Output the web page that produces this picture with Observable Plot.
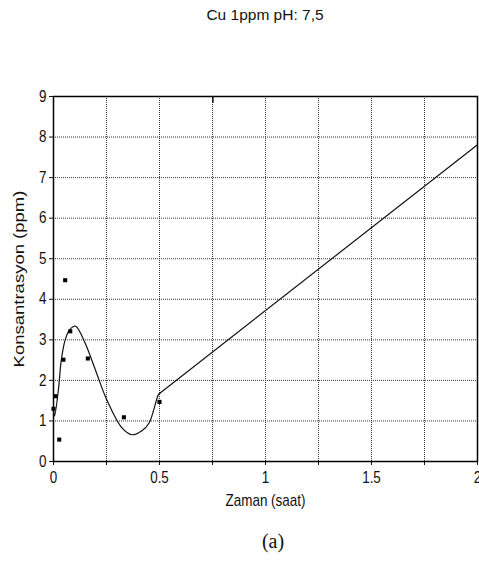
<!DOCTYPE html>
<html>
<head>
<meta charset="utf-8">
<script src="https://cdn.jsdelivr.net/npm/d3@7"></script>
<script src="https://cdn.jsdelivr.net/npm/@observablehq/plot@0.6"></script>
<style>
  html, body { margin: 0; padding: 0; background: #fff; }
  #wrap { width: 479px; height: 565px; overflow: hidden; position: relative; }
  #title { height: 80px; box-sizing: border-box; padding-top: 6px; padding-left: 51px; text-align: center;
           font-family: "Liberation Sans", Arial, sans-serif; font-size: 15.5px; line-height: 18px; color: #111; }
  #caption { box-sizing: border-box; padding-top: 9px; padding-left: 67px; text-align: center;
             font-family: "Liberation Serif", "Times New Roman", serif; font-size: 20px; line-height: 24px; color: #111; }
  #chart svg { display: block; overflow: visible; }
  #chart svg [aria-label="y-axis label"] text { font-size: 18.5px; }
</style>
</head>
<body>
<div id="wrap">
  <div id="title"></div>
  <div id="chart"></div>
  <div id="caption"></div>
</div>
<script>
// ---- text ----
const titleText = "Cu 1ppm pH: 7,5";
const captionText = "(a)";
const xLabel = "Zaman (saat)";
const yLabel = "Konsantrasyon (ppm)";

// ---- measured points (time in hours, concentration in ppm) ----
const pointTime = [0, 0.008, 0.027, 0.047, 0.055, 0.079, 0.162, 0.332, 0.5];
const pointConc = [1.30, 1.61, 0.54, 2.51, 4.47, 3.21, 2.54, 1.09, 1.47];

// ---- fitted smooth curve ----
const curveTime = [0, 0.005, 0.024, 0.036, 0.055, 0.071, 0.094, 0.107, 0.146, 0.197, 0.249, 0.323, 0.37, 0.417, 0.451, 0.495, 0.503];
const curveConc = [1.32, 1.12, 1.81, 2.47, 3.0, 3.21, 3.33, 3.33, 2.96, 2.27, 1.55, 0.83, 0.66, 0.76, 0.95, 1.65, 1.69];

// ---- straight continuation ----
const lineTime = [0.503, 2];
const lineConc = [1.69, 7.81];

// ---- small stray stroke at top ----
const strayTime = [0.752, 0.752];
const strayConc = [9, 8.86];

// ---- ticks ----
const xTicks = [0, 0.25, 0.5, 0.75, 1, 1.25, 1.5, 1.75, 2];
const xTickLabels = {0: "0", 0.5: "0.5", 1: "1", 1.5: "1.5", 2: "2"};
const yTicks = [0, 1, 2, 3, 4, 5, 6, 7, 8, 9];

const points = pointTime.map((t, i) => ({t, c: pointConc[i]}));
const curve = curveTime.map((t, i) => ({t, c: curveConc[i]}));
const line = lineTime.map((t, i) => ({t, c: lineConc[i]}));
const stray = strayTime.map((t, i) => ({t, c: strayConc[i]}));

document.getElementById("title").textContent = titleText;
document.getElementById("caption").textContent = captionText;

const axisFont = {fontFamily: "'Liberation Sans', Arial, sans-serif", fontSize: 16};

const chart = Plot.plot({
  width: 479,
  height: 440,
  marginTop: 16,
  marginBottom: 59,
  marginLeft: 53,
  marginRight: 2,
  style: {fontFamily: axisFont.fontFamily, fontSize: "16px", color: "#111", background: "#fff", overflow: "visible"},
  x: {domain: [0, 2]},
  y: {domain: [0, 9]},
  marks: [
    Plot.gridX(xTicks, {stroke: "#333", strokeOpacity: 1, strokeDasharray: "1,1"}),
    Plot.gridY(yTicks, {stroke: "#333", strokeOpacity: 1, strokeDasharray: "1,1"}),
    Plot.axisX({ticks: xTicks, tickFormat: d => xTickLabels[d] ?? "", tickSize: 4, tickPadding: 6,
      label: xLabel, labelAnchor: "center", labelArrow: "none", labelOffset: 44, ...axisFont}),
    Plot.axisY({ticks: yTicks, tickFormat: d => String(d), tickSize: 4, tickPadding: 3,
      label: yLabel, labelAnchor: "center", labelArrow: "none", labelOffset: 41, ...axisFont}),
    Plot.frame({stroke: "#000", strokeWidth: 1.5}),
    Plot.line(curve, {x: "t", y: "c", curve: "catmull-rom", stroke: "#111", strokeWidth: 1.2}),
    Plot.line(line, {x: "t", y: "c", stroke: "#111", strokeWidth: 1.2}),
    Plot.line(stray, {x: "t", y: "c", stroke: "#111", strokeWidth: 1.5}),
    Plot.dot(points, {x: "t", y: "c", symbol: "square", r: 2.3, fill: "#000", stroke: "none"})
  ]
});
document.getElementById("chart").appendChild(chart);

// the reference text is horizontally compressed: squeeze glyphs slightly
const squeeze = (sel, s) => d3.select(chart).selectAll(sel).each(function () {
  const t = this.getAttribute("transform") || "";
  this.setAttribute("transform", t + " " + s);
});
squeeze('[aria-label="x-axis tick label"] text', "scale(0.84,1)");
squeeze('[aria-label="y-axis tick label"] text', "scale(0.84,1)");
squeeze('[aria-label="x-axis label"] text', "scale(0.84,1)");
squeeze('[aria-label="y-axis label"] text', "scale(1,0.84)");
</script>
</body>
</html>
